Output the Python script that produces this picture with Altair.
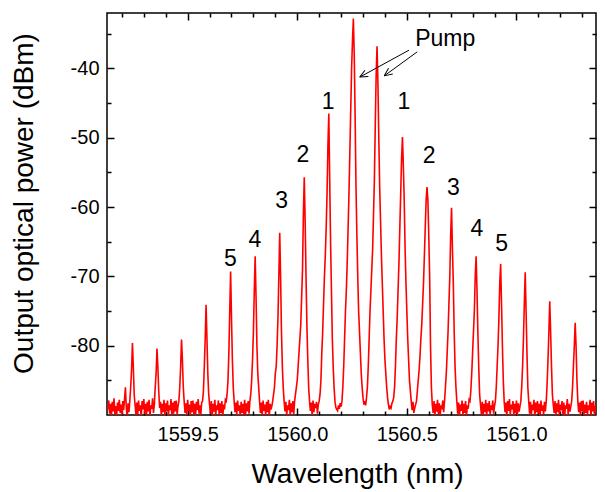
import altair as alt
import numpy as np
import pandas as pd

# ---- data -----------------------------------------------------------------
# OSA sampling grid (nm)
WL_START = 1559.136
WL_STEP = 0.004

power_dbm = [
    -89.2, -87.9, -89.8, -88.4, -90.3, -88.1, -89.5, -87.6, -89.9, -88.7, -90.1, -88.2, -89.4, -87.8,
    -89.7, -88.5, -90.2, -88.0, -89.3, -87.7, -86.0, -88.9, -90.4, -88.3, -89.6, -88.0, -86.0, -83.5,
    -79.6, -83.0, -87.0, -88.5, -89.9, -88.2, -90.1, -87.9, -89.4, -88.6, -90.5, -88.0, -89.2, -87.7,
    -89.8, -88.4, -90.0, -88.1, -89.5, -87.8, -90.3, -88.6, -89.1, -87.6, -89.7, -88.5, -86.0, -84.0,
    -80.4, -83.0, -86.5, -89.0, -88.1, -90.2, -88.4, -89.6, -87.8, -90.0, -88.3, -89.4, -87.9, -90.1,
    -88.6, -89.3, -87.7, -90.4, -88.2, -89.8, -88.0, -89.5, -87.9, -90.0, -88.7, -88.0, -86.0, -83.0,
    -79.1, -82.0, -86.0, -88.0, -89.7, -88.3, -90.1, -87.8, -89.4, -88.5, -90.3, -88.0, -89.6, -87.9,
    -89.9, -88.4, -90.2, -88.1, -89.3, -87.7, -89.8, -88.6, -90.0, -88.2, -88.0, -86.5, -83.0, -79.0,
    -74.1, -79.0, -84.0, -87.0, -88.5, -89.8, -88.0, -90.2, -88.4, -89.5, -87.8, -90.0, -88.6, -89.3,
    -87.9, -90.1, -88.3, -89.7, -88.0, -90.4, -88.5, -89.2, -87.8, -88.0, -87.0, -85.0, -81.0, -75.0,
    -69.3, -76.0, -82.0, -86.0, -88.0, -89.6, -88.2, -90.0, -87.9, -89.4, -88.6, -90.3, -88.1, -89.7,
    -88.4, -89.9, -87.8, -90.1, -88.3, -89.5, -88.0, -89.8, -88.0, -87.0, -85.0, -82.0, -78.0, -72.0,
    -67.1, -73.0, -80.0, -84.0, -86.0, -88.0, -89.7, -88.2, -90.2, -87.9, -89.4, -88.5, -90.0, -88.1,
    -89.6, -87.8, -90.3, -88.4, -89.2, -88.7, -88.0, -87.0, -86.0, -84.0, -83.0, -80.0, -76.0, -70.0,
    -63.7, -70.0, -78.0, -83.0, -86.0, -88.0, -89.5, -88.1, -90.0, -88.6, -89.3, -87.8, -90.2, -88.3,
    -89.6, -88.0, -89.9, -88.0, -87.0, -86.0, -85.0, -83.0, -81.0, -79.0, -77.0, -73.0, -69.0, -61.0,
    -55.7, -62.0, -70.0, -77.0, -82.0, -86.0, -88.0, -89.4, -88.2, -90.1, -87.9, -89.6, -88.4, -89.0,
    -88.1, -89.8, -88.5, -88.0, -87.0, -85.0, -81.0, -78.0, -74.0, -70.0, -67.0, -63.0, -58.0, -51.0,
    -46.5, -56.0, -65.0, -72.0, -79.0, -83.0, -86.0, -88.0, -88.9, -89.2, -89.4, -88.6, -89.1, -88.3,
    -88.8, -88.0, -86.0, -83.0, -79.0, -75.0, -72.0, -68.0, -63.0, -58.0, -52.0, -46.0, -40.0, -36.0,
    -32.8, -38.0, -47.0, -57.0, -64.0, -70.0, -75.0, -78.0, -81.0, -84.0, -86.0, -87.5, -88.5, -88.0,
    -88.6, -87.5, -86.0, -83.0, -79.0, -75.0, -72.0, -69.0, -66.0, -61.0, -56.0, -48.0, -41.0, -36.8,
    -42.0, -50.0, -57.0, -62.0, -67.0, -71.0, -75.0, -79.0, -82.0, -84.0, -86.0, -87.5, -88.5, -89.2,
    -88.8, -89.0, -88.3, -88.0, -87.5, -86.0, -83.0, -79.0, -76.0, -72.0, -68.0, -63.0, -58.0, -53.0,
    -49.9, -54.0, -59.0, -66.0, -71.0, -75.0, -79.0, -82.0, -85.0, -86.5, -88.0, -89.3, -88.1, -89.7,
    -89.0, -88.5, -88.0, -86.5, -85.0, -83.5, -81.5, -79.0, -77.0, -74.0, -71.0, -67.0, -63.0, -59.0,
    -57.1, -59.0, -64.0, -70.0, -80.0, -86.0, -88.5, -89.7, -88.0, -90.1, -88.4, -89.5, -87.8, -89.9,
    -88.3, -90.0, -88.6, -89.2, -87.9, -89.6, -88.0, -86.0, -84.0, -81.0, -78.0, -74.0, -70.0, -64.0,
    -60.1, -66.0, -71.0, -78.0, -83.0, -86.0, -88.0, -89.8, -88.2, -90.2, -88.5, -89.4, -87.9, -90.0,
    -88.4, -89.7, -88.0, -90.3, -88.6, -89.1, -87.8, -88.0, -86.5, -84.0, -81.0, -78.0, -75.0, -70.0,
    -67.1, -72.0, -78.0, -83.0, -87.0, -88.5, -89.9, -88.1, -90.1, -88.4, -89.6, -87.8, -90.2, -88.3,
    -89.5, -88.0, -90.0, -88.6, -89.3, -87.9, -89.8, -88.7, -88.0, -86.0, -83.0, -80.0, -76.0, -71.0,
    -68.2, -74.0, -80.0, -85.0, -88.0, -89.6, -88.2, -90.3, -88.0, -89.4, -87.7, -90.0, -88.5, -89.2,
    -88.0, -90.1, -88.4, -89.7, -87.9, -90.2, -88.3, -89.5, -88.8, -88.0, -86.0, -83.0, -79.0, -74.0,
    -69.4, -75.0, -81.0, -86.0, -88.0, -89.8, -88.1, -90.0, -88.5, -89.3, -87.8, -90.4, -88.2, -89.6,
    -88.0, -89.9, -88.4, -90.2, -87.9, -89.4, -88.6, -90.0, -88.1, -89.5, -88.0, -85.5, -82.0, -78.0,
    -73.6, -78.0, -83.0, -87.0, -88.5, -89.7, -88.0, -90.1, -88.3, -89.6, -87.8, -90.2, -88.5, -89.3,
    -88.0, -89.9, -88.2, -90.3, -88.6, -89.1, -87.7, -90.0, -88.4, -89.5, -88.8, -88.0, -86.0, -83.0,
    -80.0, -76.7, -80.0, -85.0, -88.0, -89.6, -88.2, -90.1, -88.0, -89.4, -87.9, -90.2, -88.5, -89.7,
    -88.1, -90.0, -88.6, -89.3, -87.8, -90.4, -88.2, -89.5, -88.0, -90.1, -88.7, -89.2, -87.9, -89.8,
]
wavelength_nm = np.round(WL_START + WL_STEP * np.arange(len(power_dbm)), 4)

x_major = [1559.5, 1560.0, 1560.5, 1561.0]
x_minor = [1559.2, 1559.3, 1559.4, 1559.6, 1559.7, 1559.8, 1559.9, 1560.1, 1560.2,
           1560.3, 1560.4, 1560.6, 1560.7, 1560.8, 1560.9, 1561.1, 1561.2, 1561.3]
y_major = [-80, -70, -60, -50, -40]
y_minor = [-85, -75, -65, -55, -45, -35]

label_text = ["1", "2", "3", "4", "5", "1", "2", "3", "4", "5", "Pump"]
label_x = [1560.141, 1560.026, 1559.929, 1559.807, 1559.695,
           1560.487, 1560.602, 1560.712, 1560.820, 1560.933, 1560.675]
label_y = [-45.86, -53.46, -60.17, -65.71, -68.56,
           -45.86, -53.69, -58.26, -64.16, -66.28, -36.79]

arrow_id = ["a", "a", "b", "b"]
arrow_x = [1560.510, 1560.285, 1560.547, 1560.397]
arrow_y = [-37.36, -41.25, -37.61, -41.07]
head_x = [1560.285, 1560.397]
head_y = [-41.25, -41.07]
head_angle = [241.4, 233.9]

# ---- chart -----------------------------------------------------------------
FONT = "Liberation Sans"
xs = alt.Scale(domain=[1559.132, 1561.363], nice=False, zero=False)
ys = alt.Scale(domain=[-90, -32], nice=False, zero=False)

trace = pd.DataFrame({"wl": wavelength_nm, "p": power_dbm})

main = alt.Chart(trace).mark_line(color="#ff0000", strokeWidth=1.6, clip=True).encode(
    x=alt.X("wl:Q", scale=xs, axis=alt.Axis(
        orient="bottom", values=x_major, format=".1f", ticks=False, domain=False,
        labelPadding=9, grid=False, title="Wavelength (nm)", titleX=250, titleY=67,
        titleBaseline="alphabetic", titleAlign="center")),
    y=alt.Y("p:Q", scale=ys, axis=alt.Axis(
        orient="left", values=y_major, labelExpr="'' + datum.value", ticks=False,
        domain=False, labelPadding=8, grid=False, title="Output optical power (dBm)",
        titleX=-75, titleY=190, titleAngle=270, titleBaseline="alphabetic",
        titleAlign="center")),
)

dummy = pd.DataFrame({"wl": [1560.0], "p": [-60.0]})


def tick_layer(xorient, yorient, xvals, yvals, size):
    return alt.Chart(dummy).mark_point(opacity=0).encode(
        x=alt.X("wl:Q", scale=xs, axis=alt.Axis(
            orient=xorient, values=xvals, labels=False, domain=False, ticks=True,
            tickSize=size, offset=-size, title=None, grid=False)),
        y=alt.Y("p:Q", scale=ys, axis=alt.Axis(
            orient=yorient, values=yvals, labels=False, domain=False, ticks=True,
            tickSize=size, offset=-size, title=None, grid=False)),
    )


t1 = tick_layer("bottom", "left", x_major, y_major, 7)
t2 = tick_layer("bottom", "left", x_minor, y_minor, 4)
t3 = tick_layer("top", "right", x_major, y_major, 7)
t4 = tick_layer("top", "right", x_minor, y_minor, 4)

labels = pd.DataFrame({"t": label_text, "wl": label_x, "p": label_y})
text = alt.Chart(labels).mark_text(
    font=FONT, fontSize=23, baseline="alphabetic", align="center", color="black"
).encode(
    x=alt.X("wl:Q", scale=xs, axis=None),
    y=alt.Y("p:Q", scale=ys, axis=None),
    text="t:N",
)

arrows = pd.DataFrame({"id": arrow_id, "wl": arrow_x, "p": arrow_y})
arrow_lines = alt.Chart(arrows).mark_line(color="black", strokeWidth=1).encode(
    x=alt.X("wl:Q", scale=xs, axis=None),
    y=alt.Y("p:Q", scale=ys, axis=None),
    detail="id:N",
)

heads = pd.DataFrame({"wl": head_x, "p": head_y, "ang": head_angle})
arrow_heads = alt.Chart(heads).mark_point(
    shape="M0,0L-0.45,1M0,0L0.45,1", filled=False, color="black",
    strokeWidth=1, size=250, opacity=1
).encode(
    x=alt.X("wl:Q", scale=xs, axis=None),
    y=alt.Y("p:Q", scale=ys, axis=None),
    angle=alt.Angle("ang:Q", scale=None),
)

chart = alt.layer(
    main, t1, t2, t3, t4, text, arrow_lines, arrow_heads
).resolve_axis(
    x="independent", y="independent"
).properties(
    width=489, height=402,
    padding={"left": 99, "top": 5, "right": 1, "bottom": 76},
    autosize=alt.AutoSizeParams(type="none"),
).configure_view(
    stroke="black", strokeWidth=1.5
).configure_axis(
    labelFont=FONT, labelFontSize=20, labelColor="black",
    titleFont=FONT, titleFontSize=28, titleColor="black", titleFontWeight="normal",
    tickColor="black", tickWidth=1.5,
)

chart.save("out.html", embed_options={"renderer": "svg", "actions": False})
